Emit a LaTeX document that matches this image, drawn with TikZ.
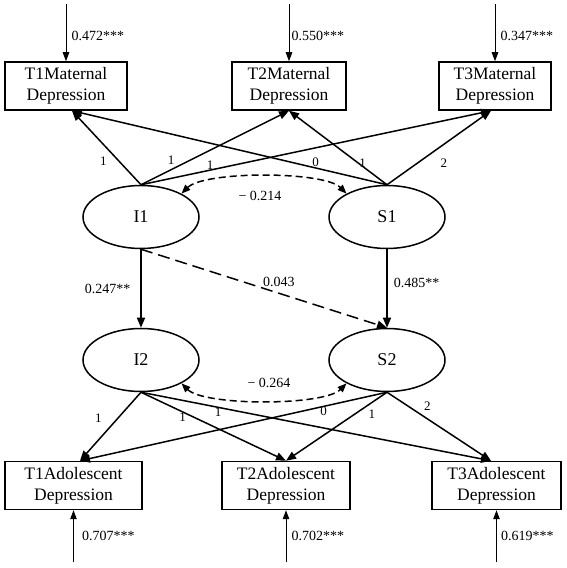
\documentclass[tikz,border=0pt]{standalone}
\usepackage{fontspec}
\setmainfont{Liberation Serif}
\usetikzlibrary{shapes.geometric, arrows.meta, positioning, calc}
\tikzset{
    indic/.style={rectangle, draw, line width=1.5pt, minimum width=#1,
                  minimum height=48pt, align=center, inner sep=0pt,
                  font=\fontsize{17.5}{21}\selectfont},
    latent/.style={ellipse, draw, line width=1.5pt, minimum width=116pt,
                   minimum height=63pt, font=\fontsize{18}{21}\selectfont},
    coef/.style={font=\fontsize{14}{16}\selectfont, inner sep=1pt},
    wt/.style={font=\fontsize{13}{15}\selectfont, inner sep=0pt},
}

\begin{document}
\begin{tikzpicture}[x=1pt, y=1pt,
    loadarr/.style={line width=1.5pt, -{Triangle[length=10pt, width=8pt]}},
    residarr/.style={line width=1pt, -{Triangle[length=9pt, width=6.5pt]}},
    covarr/.style={line width=1.5pt, dash pattern=on 7pt off 4pt,
                   {Triangle[length=9pt, width=7pt]}-{Triangle[length=9pt, width=7pt]}},
]
    \useasboundingbox (0,0) rectangle (566,568);

    % Maternal indicators
    \node[indic=122pt] (t1m) at (66,482) {T1Maternal\\Depression};
    \node[indic=114pt] (t2m) at (289,482) {T2Maternal\\Depression};
    \node[indic=112pt] (t3m) at (495,482) {T3Maternal\\Depression};

    % Adolescent indicators
    \node[indic=137pt] (t1a) at (73.5,82.5) {T1Adolescent\\Depression};
    \node[indic=128pt] (t2a) at (286,82.5) {T2Adolescent\\Depression};
    \node[indic=129pt] (t3a) at (496.5,82.5) {T3Adolescent\\Depression};

    % Growth factors
    \node[latent] (i1) at (141,351) {I1};
    \node[latent] (s1) at (387,351) {S1};
    \node[latent] (i2) at (141,208) {I2};
    \node[latent] (s2) at (387,208) {S2};

    % Arrow entry points
    \coordinate (t1m-in) at ($(t1m.south)+(6,0)$);
    \coordinate (t3m-in) at ($(t3m.south)+(-4,0)$);
    \coordinate (t1a-in) at ($(t1a.north)+(6.5,0)$);
    \coordinate (t3a-in) at ($(t3a.north)+(-5.5,0)$);

    % Residuals
    \coordinate[above=57pt of t1m] (u1m);
    \coordinate[above=57pt of t2m] (u2m);
    \coordinate[above=57pt of t3m] (u3m);
    \coordinate[below=52pt of t1a] (u1a);
    \coordinate[below=52pt of t2a] (u2a);
    \coordinate[below=52pt of t3a] (u3a);
    \draw[residarr] (u1m) -- node[pos=0.56, coef, right=4pt] (r1m) {0.472***} (t1m);
    \draw[residarr] (u2m) -- node[pos=0.56, coef, right=1pt] (r2m) {0.550***} (t2m);
    \draw[residarr] (u3m) -- node[pos=0.56, coef, right=4pt] (r3m) {0.347***} (t3m);
    \draw[residarr] (u1a) -- node[pos=0.5, coef, right=7pt] (r1a) {0.707***} (t1a);
    \draw[residarr] (u2a) -- node[pos=0.5, coef, right=4pt] (r2a) {0.702***} (t2a);
    \draw[residarr] (u3a) -- node[pos=0.5, coef, right=3pt] (r3a) {0.619***} (t3a);

    % Loadings, mother
    \draw[loadarr] (i1.north) -- node[pos=0.43, wt, xshift=-8pt, yshift=-8pt] (w1) {1} (t1m-in);
    \draw[loadarr] (i1.north) -- node[pos=0.23, wt, xshift=-4pt, yshift=8pt] (w2) {1} (t2m.south);
    \draw[loadarr] (i1.north) -- node[pos=0.20, wt, xshift=-1pt, yshift=5pt] (w3) {1} (t3m-in);
    \draw[loadarr] (s1.north) -- node[pos=0.23, wt, xshift=1pt, yshift=5pt] (w4) {0} (t1m-in);
    \draw[loadarr] (s1.north) -- node[pos=0.27, wt, xshift=2pt, yshift=2pt] (w5) {1} (t2m.south);
    \draw[loadarr] (s1.north) -- node[pos=0.46, wt, xshift=9pt, yshift=-12pt] (w6) {2} (t3m-in);

    % Loadings, adolescent
    \draw[loadarr] (i2.south) -- node[pos=0.52, wt, xshift=-11pt, yshift=10pt] (w7) {1} (t1a-in);
    \draw[loadarr] (i2.south) -- node[pos=0.30, wt, xshift=-2pt, yshift=-4pt] (w8) {1} (t2a.north);
    \draw[loadarr] (i2.south) -- node[pos=0.22, wt, yshift=-5pt] (w9) {1} (t3a-in);
    \draw[loadarr] (s2.south) -- node[pos=0.21, wt, xshift=1pt, yshift=-5pt] (w10) {0} (t1a-in);
    \draw[loadarr] (s2.south) -- node[pos=0.20, wt, xshift=5pt, yshift=-8pt] (w11) {1} (t2a.north);
    \draw[loadarr] (s2.south) -- node[pos=0.33, wt, xshift=6pt, yshift=9pt] (w12) {2} (t3a-in);

    % Covariances
    \draw[covarr] (i1.30) to[out=45, in=135, looseness=0.5]
        node[midway, coef, below=13pt, xshift=-4pt] (c1) {− 0.214} (s1.150);
    \draw[covarr] (i2.-30) to[out=-45, in=-135, looseness=0.5]
        node[midway, coef, above=11pt, xshift=5pt] (c2) {− 0.264} (s2.-150);

    % Cross-lagged paths
    \draw[loadarr] (i1) -- node[coef, left=9pt] (b1) {0.247**} (i2);
    \draw[loadarr] (s1) -- node[pos=0.43, coef, right=5pt] (b2) {0.485**} (s2);
    \draw[loadarr, dash pattern=on 12pt off 6pt] (i1.south) --
        node[pos=0.56, coef, above=5pt] (b3) {0.043} (s2.north);
\end{tikzpicture}
\end{document}
